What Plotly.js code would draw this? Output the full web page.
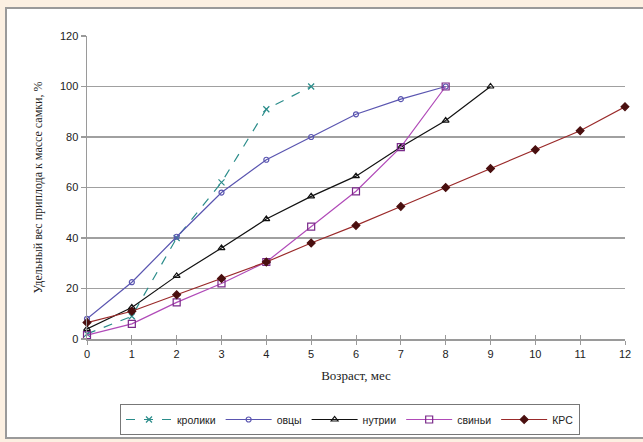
<!DOCTYPE html>
<html>
<head>
<meta charset="utf-8">
<script src="https://cdn.plot.ly/plotly-3.0.1.min.js"></script>
<style>html,body{margin:0;padding:0;background:#fcf0e2;overflow:hidden;}</style>
</head>
<body>
<div id="chart" style="width:643px;height:442px;"></div>
<script>
// Age, months
const months = [0,1,2,3,4,5,6,7,8,9,10,11,12];
// Series names
const names = ["кролики","овцы","нутрии","свиньи","КРС"];
// Values, %
const rabbits = [2, 9, 40, 62, 91, 100];
const sheep   = [8, 22.5, 40.5, 58, 71, 80, 89, 95, 100];
const nutria  = [4, 12.5, 25, 36, 47.5, 56.5, 64.5, 76, 86.5, 100];
const pigs    = [1.5, 6, 14.5, 22, 30.5, 44.5, 58.5, 76, 100];
const cattle  = [6.5, 11, 17.5, 24, 30.5, 38, 45, 52.5, 60, 67.5, 75, 82.5, 92];
const yTicks  = [0,20,40,60,80,100,120];
const gridTicks = [20,40,60,80,100];

function mk(vals, name, lineColor, dash, symbol, mColor, mSize, fill){
  return {
    x: months.slice(0, vals.length), y: vals, name: name,
    type: 'scatter', mode: 'lines+markers', cliponaxis: false,
    line: {color: lineColor, width: 1.2, dash: dash},
    marker: {symbol: symbol, size: mSize, color: fill ? mColor : 'rgba(255,255,255,0)',
             line: {color: mColor, width: 1.2}}
  };
}

const data = [
  mk(rabbits, names[0], '#2a8c8a', 'dash', 'x-thin', '#2a8c8a', 6, false),
  mk(sheep,   names[1], '#5a55b0', 'solid', 'circle', '#5a55b0', 5, false),
  mk(nutria,  names[2], '#111111', 'solid', 'triangle-up', '#111111', 6, false),
  mk(pigs,    names[3], '#b04ab8', 'solid', 'square', '#7a2a8a', 7, false),
  mk(cattle,  names[4], '#9a2a2a', 'solid', 'diamond', '#4a0f0f', 6, true)
];

const L = 87, R = 18, T = 36, B = 103, W = 643, H = 442;
const pw = W - L - R, ph = H - T - B;
const px = v => (v - L) / pw;
const py = v => (H - B - v) / ph;

const tickFont = {family: 'Liberation Sans, Arial, sans-serif', size: 11, color: '#222'};
const serif = {family: 'Liberation Serif, Times New Roman, serif', size: 13, color: '#222'};

const layout = {
  width: W, height: H,
  margin: {l: L, r: R, t: T, b: B, autoexpand: false},
  paper_bgcolor: '#fcf0e2',
  plot_bgcolor: 'rgba(0,0,0,0)',
  showlegend: true,
  xaxis: {
    range: [0, 12], tickvals: months, ticktext: months.map(String), automargin: false,
    showgrid: false, zeroline: false, showline: true, linecolor: '#9a9a9a', linewidth: 1.5,
    ticks: 'outside', ticklen: 4, tickcolor: '#9a9a9a', tickwidth: 1,
    tickfont: tickFont,
    title: {text: 'Возраст, мес', font: serif, standoff: 12}
  },
  xaxis2: {
    overlaying: 'x', anchor: 'y', range: [0, 12], tickvals: months, automargin: false,
    showticklabels: false, showgrid: false, zeroline: false, showline: false,
    ticks: 'inside', ticklen: 4, tickcolor: '#9a9a9a', tickwidth: 1
  },
  yaxis: {
    range: [0, 120], tickvals: yTicks, ticktext: yTicks.map(String), automargin: false,
    showgrid: false, zeroline: false, showline: true, linecolor: '#9a9a9a', linewidth: 1.5,
    ticks: 'outside', ticklen: 5, tickcolor: '#9a9a9a', tickwidth: 1.5,
    tickfont: tickFont,
    title: {text: 'Удельный вес приплода к массе самки, %', font: {family: serif.family, size: 12, color: '#222'}, standoff: 14}
  },
  yaxis2: {
    overlaying: 'y', anchor: 'x', range: [0, 120], tickvals: gridTicks, automargin: false,
    showticklabels: false, ticks: '', showgrid: true, gridcolor: '#a0a0a0', gridwidth: 1.5,
    zeroline: false, showline: false
  },
  legend: {
    orientation: 'h', x: px(350), xanchor: 'center', y: py(404), yanchor: 'top',
    bgcolor: '#ffffff', bordercolor: '#777', borderwidth: 1,
    font: {family: 'Liberation Sans, Arial, sans-serif', size: 10.5, color: '#222'},
    itemwidth: 46, tracegroupgap: 0, valign: 'middle'
  },
  shapes: [{
    type: 'rect', xref: 'paper', yref: 'paper', layer: 'below',
    x0: px(6), x1: px(650), y0: py(438), y1: py(8),
    fillcolor: '#ffffff', line: {color: '#9a9a9a', width: 2}
  }]
};

// a hidden trace binds xaxis2/yaxis2 so they render
data.push({x: [0], y: [0], xaxis: 'x2', yaxis: 'y2', type: 'scatter', mode: 'markers',
  marker: {opacity: 0}, showlegend: false, hoverinfo: 'skip'});

Plotly.newPlot('chart', data, layout, {displayModeBar: false, staticPlot: true});
</script>
</body>
</html>
